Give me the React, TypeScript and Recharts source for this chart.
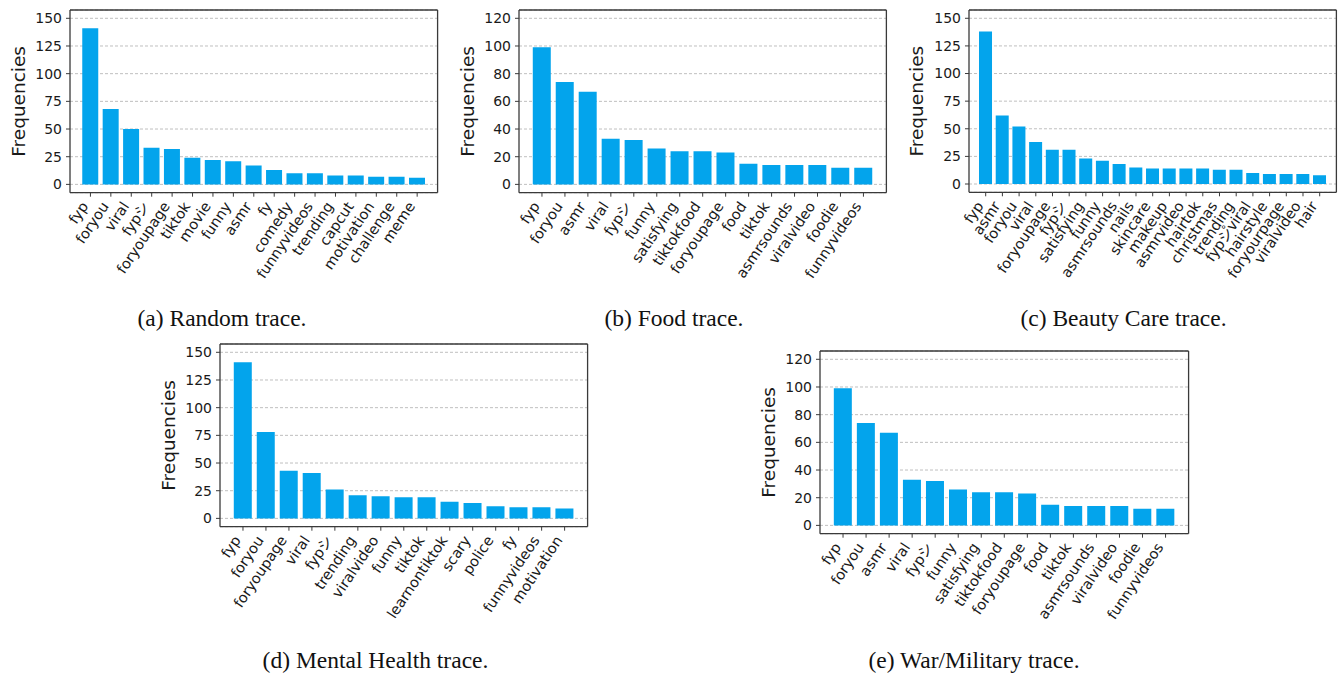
import React from 'react';
import { BarChart, Bar, XAxis, YAxis, CartesianGrid, Label } from 'recharts';

const randomTags = ['fyp', 'foryou', 'viral', 'fypシ', 'foryoupage', 'tiktok', 'movie', 'funny', 'asmr', 'fy', 'comedy', 'funnyvideos', 'trending', 'capcut', 'motivation', 'challenge', 'meme'];
const randomFreq = [141, 68, 50, 33, 32, 24, 22, 21, 17, 13, 10, 10, 8, 8, 7, 7, 6];

const foodTags = ['fyp', 'foryou', 'asmr', 'viral', 'fypシ', 'funny', 'satisfying', 'tiktokfood', 'foryoupage', 'food', 'tiktok', 'asmrsounds', 'viralvideo', 'foodie', 'funnyvideos'];
const foodFreq = [99, 74, 67, 33, 32, 26, 24, 24, 23, 15, 14, 14, 14, 12, 12];

const beautyTags = ['fyp', 'asmr', 'foryou', 'viral', 'foryoupage', 'fypシ', 'satisfying', 'funny', 'asmrsounds', 'nails', 'skincare', 'makeup', 'asmrvideo', 'hairtok', 'christmas', 'trending', 'fypシ゚viral', 'hairstyle', 'foryourpage', 'viralvideo', 'hair'];
const beautyFreq = [138, 62, 52, 38, 31, 31, 23, 21, 18, 15, 14, 14, 14, 14, 13, 13, 10, 9, 9, 9, 8];

const mentalTags = ['fyp', 'foryou', 'foryoupage', 'viral', 'fypシ', 'trending', 'viralvideo', 'funny', 'tiktok', 'learnontiktok', 'scary', 'police', 'fy', 'funnyvideos', 'motivation'];
const mentalFreq = [141, 78, 43, 41, 26, 21, 20, 19, 19, 15, 14, 11, 10, 10, 9];

const warTags = ['fyp', 'foryou', 'asmr', 'viral', 'fypシ', 'funny', 'satisfying', 'tiktokfood', 'foryoupage', 'food', 'tiktok', 'asmrsounds', 'viralvideo', 'foodie', 'funnyvideos'];
const warFreq = [99, 74, 67, 33, 32, 26, 24, 24, 23, 15, 14, 14, 14, 12, 12];

const ticks150 = [0, 25, 50, 75, 100, 125, 150];
const ticks120 = [0, 20, 40, 60, 80, 100, 120];

const captions = ['(a) Random trace.', '(b) Food trace.', '(c) Beauty Care trace.', '(d) Mental Health trace.', '(e) War/Military trace.'];

const SANS = "'DejaVu Sans', 'Noto Sans CJK JP', sans-serif";
const SERIF = "'Liberation Serif', 'Times New Roman', serif";
const BAR = '#03A4EC';
const FRAME = '#3a3a3a';

const RotTick = (props: any) => {
  const { x, y, payload } = props;
  return (
    <text
      transform={`translate(${x - 1.5},${y + 6.5}) rotate(-56)`}
      textAnchor="end"
      fontSize={14.5}
      fontFamily={SANS}
      fill="#1a1a1a"
    >
      {payload.value}
    </text>
  );
};

type PanelProps = {
  tags: string[];
  freq: number[];
  frame: [number, number, number, number];
  top: number;
  ticks: number[];
};

function Panel({ tags, freq, frame, top, ticks }: PanelProps) {
  const [L, T, R, B] = frame;
  const W = R - L;
  const H = B - T;
  const yAxisW = 60;
  const xAxisH = 100;
  const mL = 10;
  const mT = 6;
  const mR = 2;
  const mB = 4;
  const n = tags.length;
  const pad = W / (2 * (n + 1));
  const data = tags.map((t, i) => ({ tag: t, value: freq[i] }));
  const chartW = W + yAxisW + mL + mR + 1;
  const chartH = H + mT + mB + xAxisH + 1;
  const labelX = mL + yAxisW - 52;
  const labelY = mT + 1 + H / 2;
  return (
    <div style={{ position: 'absolute', left: L - yAxisW - mL, top: T - mT - 1 }}>
      <BarChart
        width={chartW}
        height={chartH}
        data={data}
        margin={{ top: mT, left: mL, right: mR, bottom: mB }}
        barCategoryGap="10%"
      >
        <CartesianGrid xAxisId="b" yAxisId="l" vertical={false} strokeDasharray="3 2" stroke="#b8b8b8" strokeWidth={0.9} />
        <XAxis
          xAxisId="b"
          dataKey="tag"
          interval={0}
          padding={{ left: pad, right: pad }}
          height={xAxisH}
          tick={<RotTick />}
          tickSize={4}
          tickMargin={3}
          tickLine={{ stroke: FRAME }}
          axisLine={{ stroke: FRAME, strokeWidth: 1.3 }}
        />
        <XAxis
          xAxisId="t"
          dataKey="tag"
          orientation="top"
          height={1}
          tick={false}
          tickLine={false}
          axisLine={{ stroke: FRAME, strokeWidth: 1.3 }}
        />
        <YAxis
          yAxisId="l"
          type="number"
          domain={[-0.05 * top, 1.05 * top]}
          ticks={ticks}
          interval={0}
          allowDataOverflow
          width={yAxisW}
          tickSize={4}
          tickMargin={4}
          tickLine={{ stroke: FRAME }}
          axisLine={{ stroke: FRAME, strokeWidth: 1.3 }}
          tick={{ fontSize: 14, fill: '#1a1a1a', fontFamily: SANS }}
        >
          <Label
            content={() => (
              <text
                x={labelX}
                y={labelY}
                transform={`rotate(-90, ${labelX}, ${labelY})`}
                textAnchor="middle"
                dominantBaseline="central"
                fontSize={18.5}
                fontFamily={SANS}
                fill="#1a1a1a"
              >
                Frequencies
              </text>
            )}
          />
        </YAxis>
        <YAxis
          yAxisId="r"
          orientation="right"
          type="number"
          domain={[0, 1]}
          width={1}
          tick={false}
          tickLine={false}
          axisLine={{ stroke: FRAME, strokeWidth: 1.3 }}
        />
        <Bar dataKey="value" xAxisId="b" yAxisId="l" fill={BAR} isAnimationActive={false} />
      </BarChart>
    </div>
  );
}

const captionStyle = (cx: number, cy: number): React.CSSProperties => ({
  position: 'absolute',
  left: cx - 200,
  width: 400,
  top: cy - 14,
  height: 28,
  lineHeight: '28px',
  textAlign: 'center',
  fontFamily: SERIF,
  fontSize: 23.5,
  color: '#111',
  whiteSpace: 'nowrap',
});

export default function App() {
  return (
    <div
      style={{
        position: 'absolute',
        left: 0,
        top: 0,
        width: 1340,
        height: 673,
        background: '#fff',
        overflow: 'hidden',
      }}
    >
      <Panel tags={randomTags} freq={randomFreq} frame={[69.7, 10, 437.3, 192.7]} top={150} ticks={ticks150} />
      <Panel tags={foodTags} freq={foodFreq} frame={[519.3, 10, 886.7, 192.7]} top={120} ticks={ticks120} />
      <Panel tags={beautyTags} freq={beautyFreq} frame={[969.3, 10, 1336.7, 192.3]} top={150} ticks={ticks150} />
      <Panel tags={mentalTags} freq={mentalFreq} frame={[219.7, 344, 587.3, 526.7]} top={150} ticks={ticks150} />
      <Panel tags={warTags} freq={warFreq} frame={[819.7, 351, 1188.3, 533.7]} top={120} ticks={ticks120} />
      <div style={captionStyle(222, 318)}>{captions[0]}</div>
      <div style={captionStyle(674, 318)}>{captions[1]}</div>
      <div style={captionStyle(1123.5, 318)}>{captions[2]}</div>
      <div style={captionStyle(375.5, 660)}>{captions[3]}</div>
      <div style={captionStyle(974, 660)}>{captions[4]}</div>
    </div>
  );
}
